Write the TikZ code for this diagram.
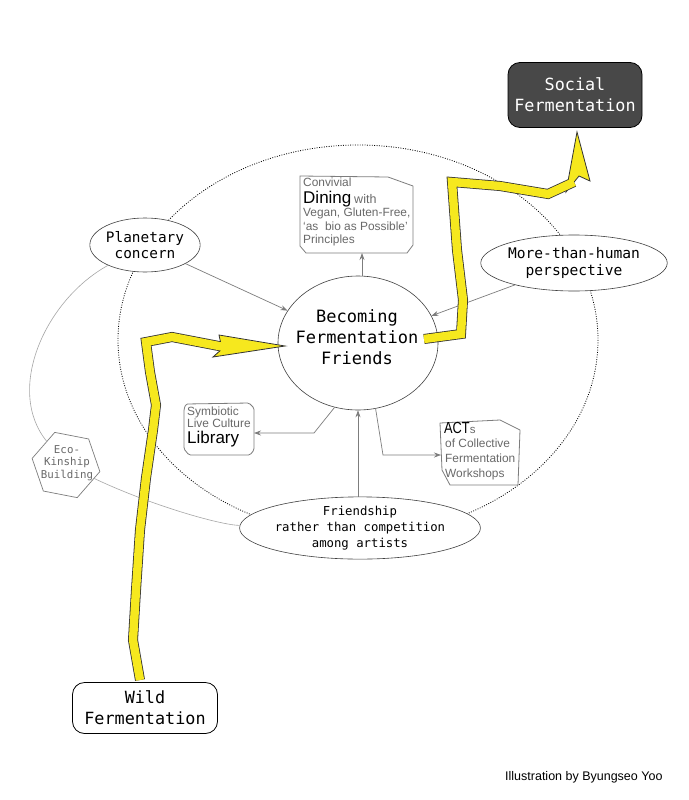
\documentclass[tikz,border=0pt]{standalone}
\usepackage{fontspec}
\usepackage{graphicx}
\setmainfont{Liberation Sans}
\newfontfamily\mymono{DejaVu Sans Mono}
\usetikzlibrary{shapes.geometric,arrows.meta}
\definecolor{ylw}{RGB}{246,232,30}
\definecolor{gtxt}{RGB}{105,105,105}
\definecolor{gline}{RGB}{125,125,125}
\definecolor{darkbox}{RGB}{72,72,72}
\begin{document}
\begin{tikzpicture}[x=1pt,y=-1pt,
 ell/.style={ellipse,draw=black!75,line width=0.6pt,fill=white,inner sep=0pt,align=center},
 conn/.style={draw=gline,line width=0.7pt,-{Stealth[length=7pt,width=5pt]}},
 poly/.style={draw=gline,line width=0.8pt,fill=white,line join=round},
 gt/.style={text=gtxt,inner sep=0pt,anchor=base west,font=\fontsize{11.9}{12}\selectfont},
 bt/.style={text=black,inner sep=0pt,anchor=base west,font=\fontsize{17}{17}\selectfont},
 rbox/.style={rounded corners=12pt,draw=black,line width=0.8pt,align=center,font=\mymono\fontsize{16.8}{21}\selectfont},
 yedge/.style={line width=10pt,draw=black!80,line join=miter},
 yfill/.style={line width=8.4pt,draw=ylw,line join=miter},
 yhead/.style={fill=ylw,draw=black!80,line width=0.8pt,line join=miter},
 thin/.style={draw=black!35,line width=0.6pt}
]
\useasboundingbox (0,0) rectangle (688,800);
\fill[white] (0,0) rectangle (688,800);

% big dotted ellipse
\draw[black,line width=0.8pt,dash pattern=on 0.9pt off 1.5pt] (358,340) ellipse [x radius=240,y radius=195];

% central node
\node[ell,minimum width=160pt,minimum height=134pt] (becoming) at (358,343) {};
\node[inner sep=0pt,align=center,font=\mymono\fontsize{17}{21}\selectfont] (becomingtxt) at (357,337) {Becoming\\Fermentation\\Friends};

% ellipses
\node[ell,minimum width=98pt,minimum height=54pt,font=\mymono\fontsize{14.4}{16}\selectfont] (planet) at (145,245) {Planetary\\concern};
\node[ell,minimum width=158pt,minimum height=56pt,font=\mymono\fontsize{14.6}{17}\selectfont] (more) at (574,263) {More-than-human\\perspective};
\node[ell,minimum width=186pt,minimum height=60pt,font=\mymono\fontsize{12.3}{16}\selectfont] (friend) at (360,528) {Friendship\\rather than competition\\among artists};

% hexagon
\node[regular polygon,regular polygon sides=6,shape border rotate=-11,minimum size=69pt,inner sep=0pt,draw=gline,line width=0.7pt,fill=white] (eco) at (66,465) {};
\node[text=gtxt,align=center,inner sep=0pt,font=\mymono\fontsize{10.8}{12.5}\selectfont] (ecotxt) at (67,463) {Eco-\\Kinship\\Building};

% rounded boxes
\node[rbox,fill=darkbox,text=white,minimum width=134pt,minimum height=65pt] (social) at (575,95) {Social\\Fermentation};
\node[rbox,fill=white,minimum width=145pt,minimum height=51pt] (wild) at (145,708) {Wild\\Fermentation};

% Dining box
\filldraw[poly] (300,176) -- (388,177) -- (413,186) -- (413,245) -- (407,253) -- (306,253) -- (300,246) -- cycle;
\coordinate (dinB) at (362,253);
\node[gt] (d1) at (303,186) {Convivial};
\node[bt] (d2) at (303,203) {Dining\,{\color{gtxt}\fontsize{12.5}{12.5}\selectfont with}};
\node[gt] (d3) at (303,216) {Vegan, Gluten-Free,};
\node[gt] (d4) at (303,230) {‘as\ \ bio as Possible’};
\node[gt] (d5) at (303,243) {Principles};

% Library box
\filldraw[poly,rounded corners=1.5pt] (186,404) -- (249,403) -- (254,408) -- (254,450) -- (250,455) -- (189,455) -- (184,449) -- (184,409) -- cycle;
\coordinate (libR) at (254,433);
\node[gt] (l1) at (187,415) {Symbiotic};
\node[gt] (l2) at (187,427) {Live Culture};
\node[bt] (l3) at (187,443) {Library};

% ACTs box
\filldraw[poly] (440,423) -- (500,420) -- (520,430) -- (518,485) -- (450,485) -- (442,470) -- cycle;
\coordinate (actL) at (441,455);
\node[bt] (a1) at (444,433) {\scalebox{0.8}[1]{\fontsize{16}{16}\selectfont ACT}{\color{gtxt}\fontsize{11.5}{12}\selectfont s}};
\node[gt] (a2) at (445,447) {of Collective};
\node[gt] (a3) at (445,462) {Fermentation};
\node[gt] (a4) at (445,477) {Workshops};

% connectors
\draw[conn] (planet) -- (becoming);
\draw[conn] (more) -- (becoming);
\draw[conn] (dinB |- becoming.north) -- (dinB);
\draw[conn] (becoming.250) -- (314,433) -- (libR);
\draw[conn] (becoming.285) -- (383,455) -- (actL);
\draw[conn] (friend.north -| becoming.south) -- (becoming.south);

% thin grey curves
\draw[thin] (planet) .. controls (45,300) and (5,390) .. (eco);
\draw[thin] (eco) .. controls (150,505) and (220,525) .. (friend);

% yellow arrow 1 (Wild -> Becoming)
\coordinate (y1s) at (140,680);
\draw[yedge] (y1s) -- (133,640) -- (136,590) -- (140,530) -- (146,478) -- (153,430) -- (156,405) -- (150,372) -- (146,342) -- (172,337) -- (224,347);
\filldraw[yhead] (219,335) -- (285,346) -- (213,357) -- (222,349) -- cycle;
\draw[yfill] (y1s) -- (133,640) -- (136,590) -- (140,530) -- (146,478) -- (153,430) -- (156,405) -- (150,372) -- (146,342) -- (172,337) -- (224,347);

% yellow arrow 2 (Becoming -> Social)
\coordinate (y2s) at (424,339);
\draw[yedge] (y2s) -- (461,334) -- (463,300) -- (457,250) -- (452,182) -- (500,186) -- (548,194) -- (574,182);
\filldraw[yhead] (577,132) -- (590,181) -- (579,176) -- (566,192) -- cycle;
\draw[yfill] (y2s) -- (461,334) -- (463,300) -- (457,250) -- (452,182) -- (500,186) -- (548,194) -- (574,182);

% credit
\node[anchor=base west,inner sep=0pt,font=\fontsize{12.5}{12.5}\selectfont] (credit) at (505,780) {Illustration by Byungseo Yoo};
\end{tikzpicture}
\end{document}
